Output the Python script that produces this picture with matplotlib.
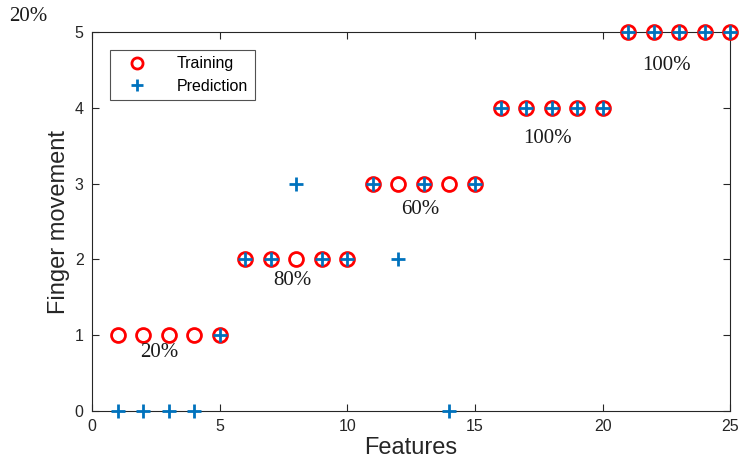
import numpy as np
import matplotlib
matplotlib.use('Agg')
import matplotlib.pyplot as plt

# Data
features = list(range(1, 26))
training = [1, 1, 1, 1, 1, 2, 2, 2, 2, 2, 3, 3, 3, 3, 3, 4, 4, 4, 4, 4, 5, 5, 5, 5, 5]
prediction = [0, 0, 0, 0, 1, 2, 2, 3, 2, 2, 3, 2, 3, 0, 3, 4, 4, 4, 4, 4, 5, 5, 5, 5, 5]

acc_labels = ['20%', '80%', '60%', '100%', '100%']
acc_x = [2.65, 7.85, 12.85, 17.85, 22.5]
acc_y = [0.77, 1.72, 2.66, 3.59, 4.56]

plt.rcParams['font.family'] = ['Liberation Sans', 'DejaVu Sans']

fig = plt.figure(figsize=(7.4, 4.74), dpi=100)
ax = fig.add_axes([0.1243, 0.1329, 0.8627, 0.7996])

ax.plot(features, training, linestyle='none', marker='o', markersize=10,
        markerfacecolor='none', markeredgecolor='#ff0000', markeredgewidth=2,
        clip_on=False, zorder=3, label='Training')
ax.plot(features, prediction, linestyle='none', marker='+', markersize=10,
        markeredgecolor='#0072bd', markeredgewidth=2,
        clip_on=False, zorder=4, label='Prediction')

for txt, x, y in zip(acc_labels, acc_x, acc_y):
    ax.text(x, y, txt, fontsize=15, family='Liberation Serif',
            ha='center', va='center', color='#1a1a1a')

# stray label in the top-left corner
fig.text(0.038, 0.965, '20%', fontsize=15, family='Liberation Serif',
         ha='center', va='center', color='#1a1a1a')

ax.set_xlim(0, 25)
ax.set_ylim(0, 5)
ax.set_xticks([0, 5, 10, 15, 20, 25])
ax.set_yticks([0, 1, 2, 3, 4, 5])
ax.tick_params(direction='in', top=True, right=True, labelsize=11.5,
               length=5, width=0.8, colors='#262626', pad=6)
for spine in ax.spines.values():
    spine.set_color('#262626')
    spine.set_linewidth(0.8)

ax.set_xlabel('Features', fontsize=17, color='#262626', labelpad=2)
ax.set_ylabel('Finger movement', fontsize=17, color='#262626', labelpad=3)

leg = ax.legend(loc='upper left', bbox_to_anchor=(0.028, 0.9525), fontsize=11.5,
                frameon=True, fancybox=False, edgecolor='#262626',
                borderaxespad=0, markerscale=0.8, handlelength=2.6,
                handletextpad=1.2, borderpad=0.4, labelspacing=0.45)
leg.get_frame().set_linewidth(0.8)

fig.savefig('out.png', dpi=100, facecolor='white')
